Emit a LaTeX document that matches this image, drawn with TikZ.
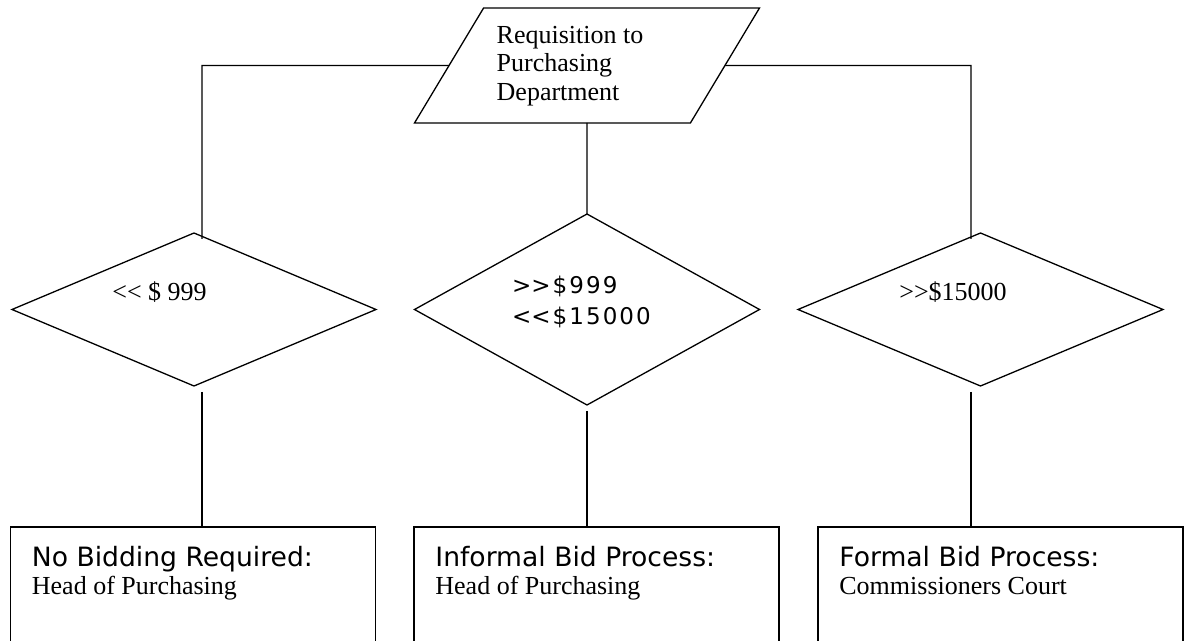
\documentclass[tikz,border=0pt]{standalone}
\usepackage{fontspec}
\setmainfont{Liberation Serif}
\newfontfamily\verdana{DejaVu Sans}
\newfontfamily\verdanawide[LetterSpace=9]{DejaVu Sans}
\usetikzlibrary{shapes.geometric, positioning, calc}

\begin{document}
\begin{tikzpicture}[
    x=0.5pt, y=-0.5pt,
    datain/.style={trapezium, trapezium left angle=59, trapezium right angle=121, draw, line width=0.65pt, text width=103.4pt, text height=57.5pt, text depth=0pt, inner sep=0pt, outer sep=0pt},
    decision/.style={diamond, draw, line width=0.65pt, inner sep=0pt, outer sep=0pt},
    outbox/.style={rectangle, draw, line width=0.9pt, minimum width=182.5pt, minimum height=100pt, anchor=north, inner sep=0pt, outer sep=0pt},
    romantxt/.style={font=\fontsize{13}{14.35}\selectfont, inner sep=0pt},
    sanstxt/.style={font=\verdana\fontsize{13.3}{15}\selectfont, inner sep=0pt},
    sanswide/.style={font=\verdanawide\fontsize{11.5}{15.85}\selectfont, inner sep=0pt},
    link/.style={draw, line width=0.65pt}]

    \useasboundingbox (0,0) rectangle (1184,641);
    \clip (0,0) rectangle (1184,641);

    % Row 1: requisition
    \node[datain] (req) at (587,65.5) {};
    \node[romantxt, align=left] (reqtxt) at ($(req)+(-17,0.5)$) {Requisition to\\Purchasing\\Department};

    % Row 2: amount decisions
    \node[decision, minimum width=182pt, minimum height=76.5pt] (low) at (194,309.5) {};
    \node[decision, minimum width=172.5pt, minimum height=95.5pt] (mid) at (587,309.5) {};
    \node[decision, minimum width=182.5pt, minimum height=76.5pt] (high) at (980.5,309.5) {};

    \node[romantxt, anchor=base west] (lowtxt) at ($(low)+(-82,-8.5)$) {<\kern0pt< \$ 999};
    \node[sanswide, anchor=base west] (midtxta) at ($(mid)+(-75.3,-16.2)$) {>\kern0pt>\$999};
    \node[sanswide, anchor=base west] (midtxtb) at ($(midtxta.base west)+(0,31.7)$) {<\kern0pt<\$15000};
    \node[romantxt, anchor=base west] (hightxt) at ($(high)+(-81.5,-8.5)$) {>\kern0pt>\$15000};

    % Row 3: bid processes (run off the bottom edge)
    \node[outbox] (nobid) at (193,527) {};
    \node[outbox] (inbid) at (596.5,527) {};
    \node[outbox] (formal) at (1000.5,527) {};

    \node[sanstxt, anchor=base west] (nobidhead) at ($(nobid.north west)+(21,40)$) {No Bidding Required:};
    \node[romantxt, anchor=base west] (nobidwho) at ($(nobid.north west)+(21,68)$) {Head of Purchasing};
    \node[sanstxt, anchor=base west] (inbidhead) at ($(inbid.north west)+(21,40)$) {Informal Bid Process:};
    \node[romantxt, anchor=base west] (inbidwho) at ($(inbid.north west)+(21,68)$) {Head of Purchasing};
    \node[sanstxt, anchor=base west] (formalhead) at ($(formal.north west)+(21,40)$) {Formal Bid Process:};
    \node[romantxt, anchor=base west] (formalwho) at ($(formal.north west)+(21,68)$) {Commissioners Court};

    % Branch corners
    \coordinate (jl) at (202,65.5);
    \coordinate (jr) at (971,65.5);

    % Requisition to decisions
    \draw[link] (req.west) -- (jl) -- ($(jl |- low.north)+(0,6)$);
    \draw[link] (req.south) -- (mid.north);
    \draw[link] (req.east) -- (jr) -- ($(jr |- high.north)+(0,6)$);

    % Decisions to processes
    \draw[link] ($(jl |- low.south)+(0,6)$) -- (jl |- nobid.north);
    \draw[link] ($(mid.south)+(0,6)$) -- (mid.south |- inbid.north);
    \draw[link] ($(jr |- high.south)+(0,6)$) -- (jr |- formal.north);
\end{tikzpicture}
\end{document}
